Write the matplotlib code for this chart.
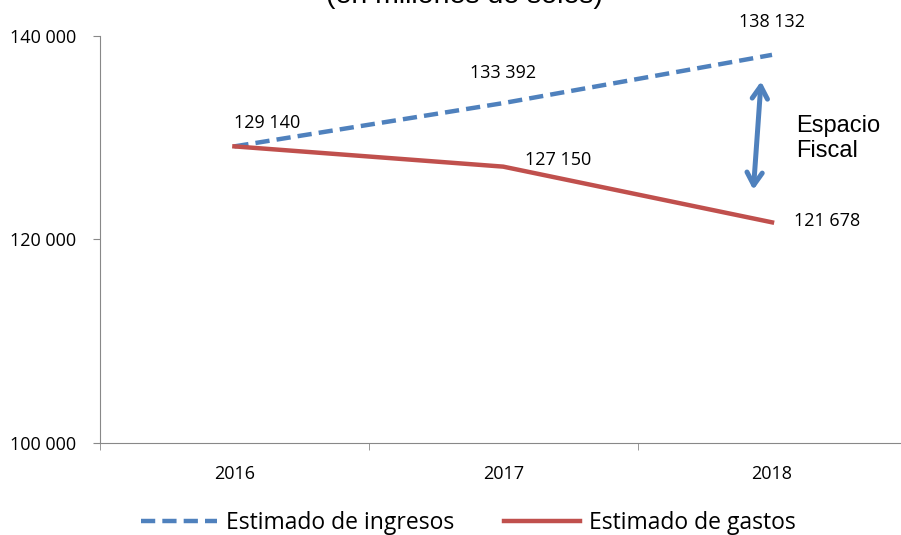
import matplotlib.pyplot as plt
from matplotlib.lines import Line2D

years = ["2016", "2017", "2018"]
ingresos = [129140, 133392, 138132]
gastos = [129140, 127150, 121678]
ingresos_labels = ["129 140", "133 392", "138 132"]
gastos_labels = ["127 150", "121 678"]
yticks = [100000, 120000, 140000]
ytick_labels = ["100 000", "120 000", "140 000"]

blue = "#4F81BD"
red = "#C0504D"

plt.rcParams['font.family'] = ['Open Sans', 'DejaVu Sans']

fig = plt.figure(figsize=(9.01, 5.35), dpi=100)
ax = fig.add_axes([0.111, 0.172, 0.895, 0.761])

x = range(len(years))
ax.plot(x, ingresos, color=blue, lw=3.2, ls=(0, (3.2, 1.6)), dash_capstyle='butt')
ax.plot(x, gastos, color=red, lw=3.2)

ax.set_xlim(-0.5, 2.5)
ax.set_ylim(100000, 140000)
ax.set_yticks(yticks)
ax.set_yticklabels(ytick_labels, fontsize=13)
ax.set_xticks(x)
ax.set_xticklabels(years, fontsize=13)
ax.set_xticks([-0.5, 0.5, 1.5, 2.5], minor=True)
ax.tick_params(axis='x', which='major', length=0, pad=16)
ax.tick_params(axis='x', which='minor', length=5, color='#888888')
ax.tick_params(axis='y', length=5, color='#888888', pad=12)
for s in ['top', 'right']:
    ax.spines[s].set_visible(False)
for s in ['left', 'bottom']:
    ax.spines[s].set_color('#888888')

# data labels
fs = 13
ax.text(0, ingresos[0] + 2300, ingresos_labels[0], ha='left', va='center', fontsize=fs)
ax.text(1, ingresos[1] + 3000, ingresos_labels[1], ha='center', va='center', fontsize=fs)
ax.text(2, ingresos[2] + 3200, ingresos_labels[2], ha='center', va='center', fontsize=fs,
        clip_on=False)
ax.text(1.08, gastos[1] + 700, gastos_labels[0], ha='left', va='center', fontsize=fs)
ax.text(2.08, gastos[2] + 150, gastos_labels[1], ha='left', va='center', fontsize=fs)

# espacio fiscal arrow
ax.annotate('', xy=(1.96, 135800), xytext=(1.93, 124600),
            arrowprops=dict(arrowstyle='<->,head_length=0.9,head_width=0.55',
                            color=blue, lw=3.6))
ax.text(2.09, 129900, "Espacio\nFiscal", family=['Liberation Sans', 'DejaVu Sans'],
        fontsize=17, va='center', ha='left', linespacing=1.2)

fig.text(0.516, 0.995, "(en millones de soles)", ha='center', va='baseline',
         fontsize=20.5, family=['Liberation Sans', 'DejaVu Sans'])

handles = [Line2D([], [], color=blue, lw=3.2, ls=(0, (3.2, 1.6))),
           Line2D([], [], color=red, lw=3.2)]
fig.legend(handles, ["Estimado de ingresos", "Estimado de gastos"],
           loc='center', bbox_to_anchor=(0.52, 0.022), ncol=2, frameon=False,
           fontsize=16.5, handlelength=3.3, columnspacing=2.2, handletextpad=0.4)

fig.savefig("out.png", dpi=100)
